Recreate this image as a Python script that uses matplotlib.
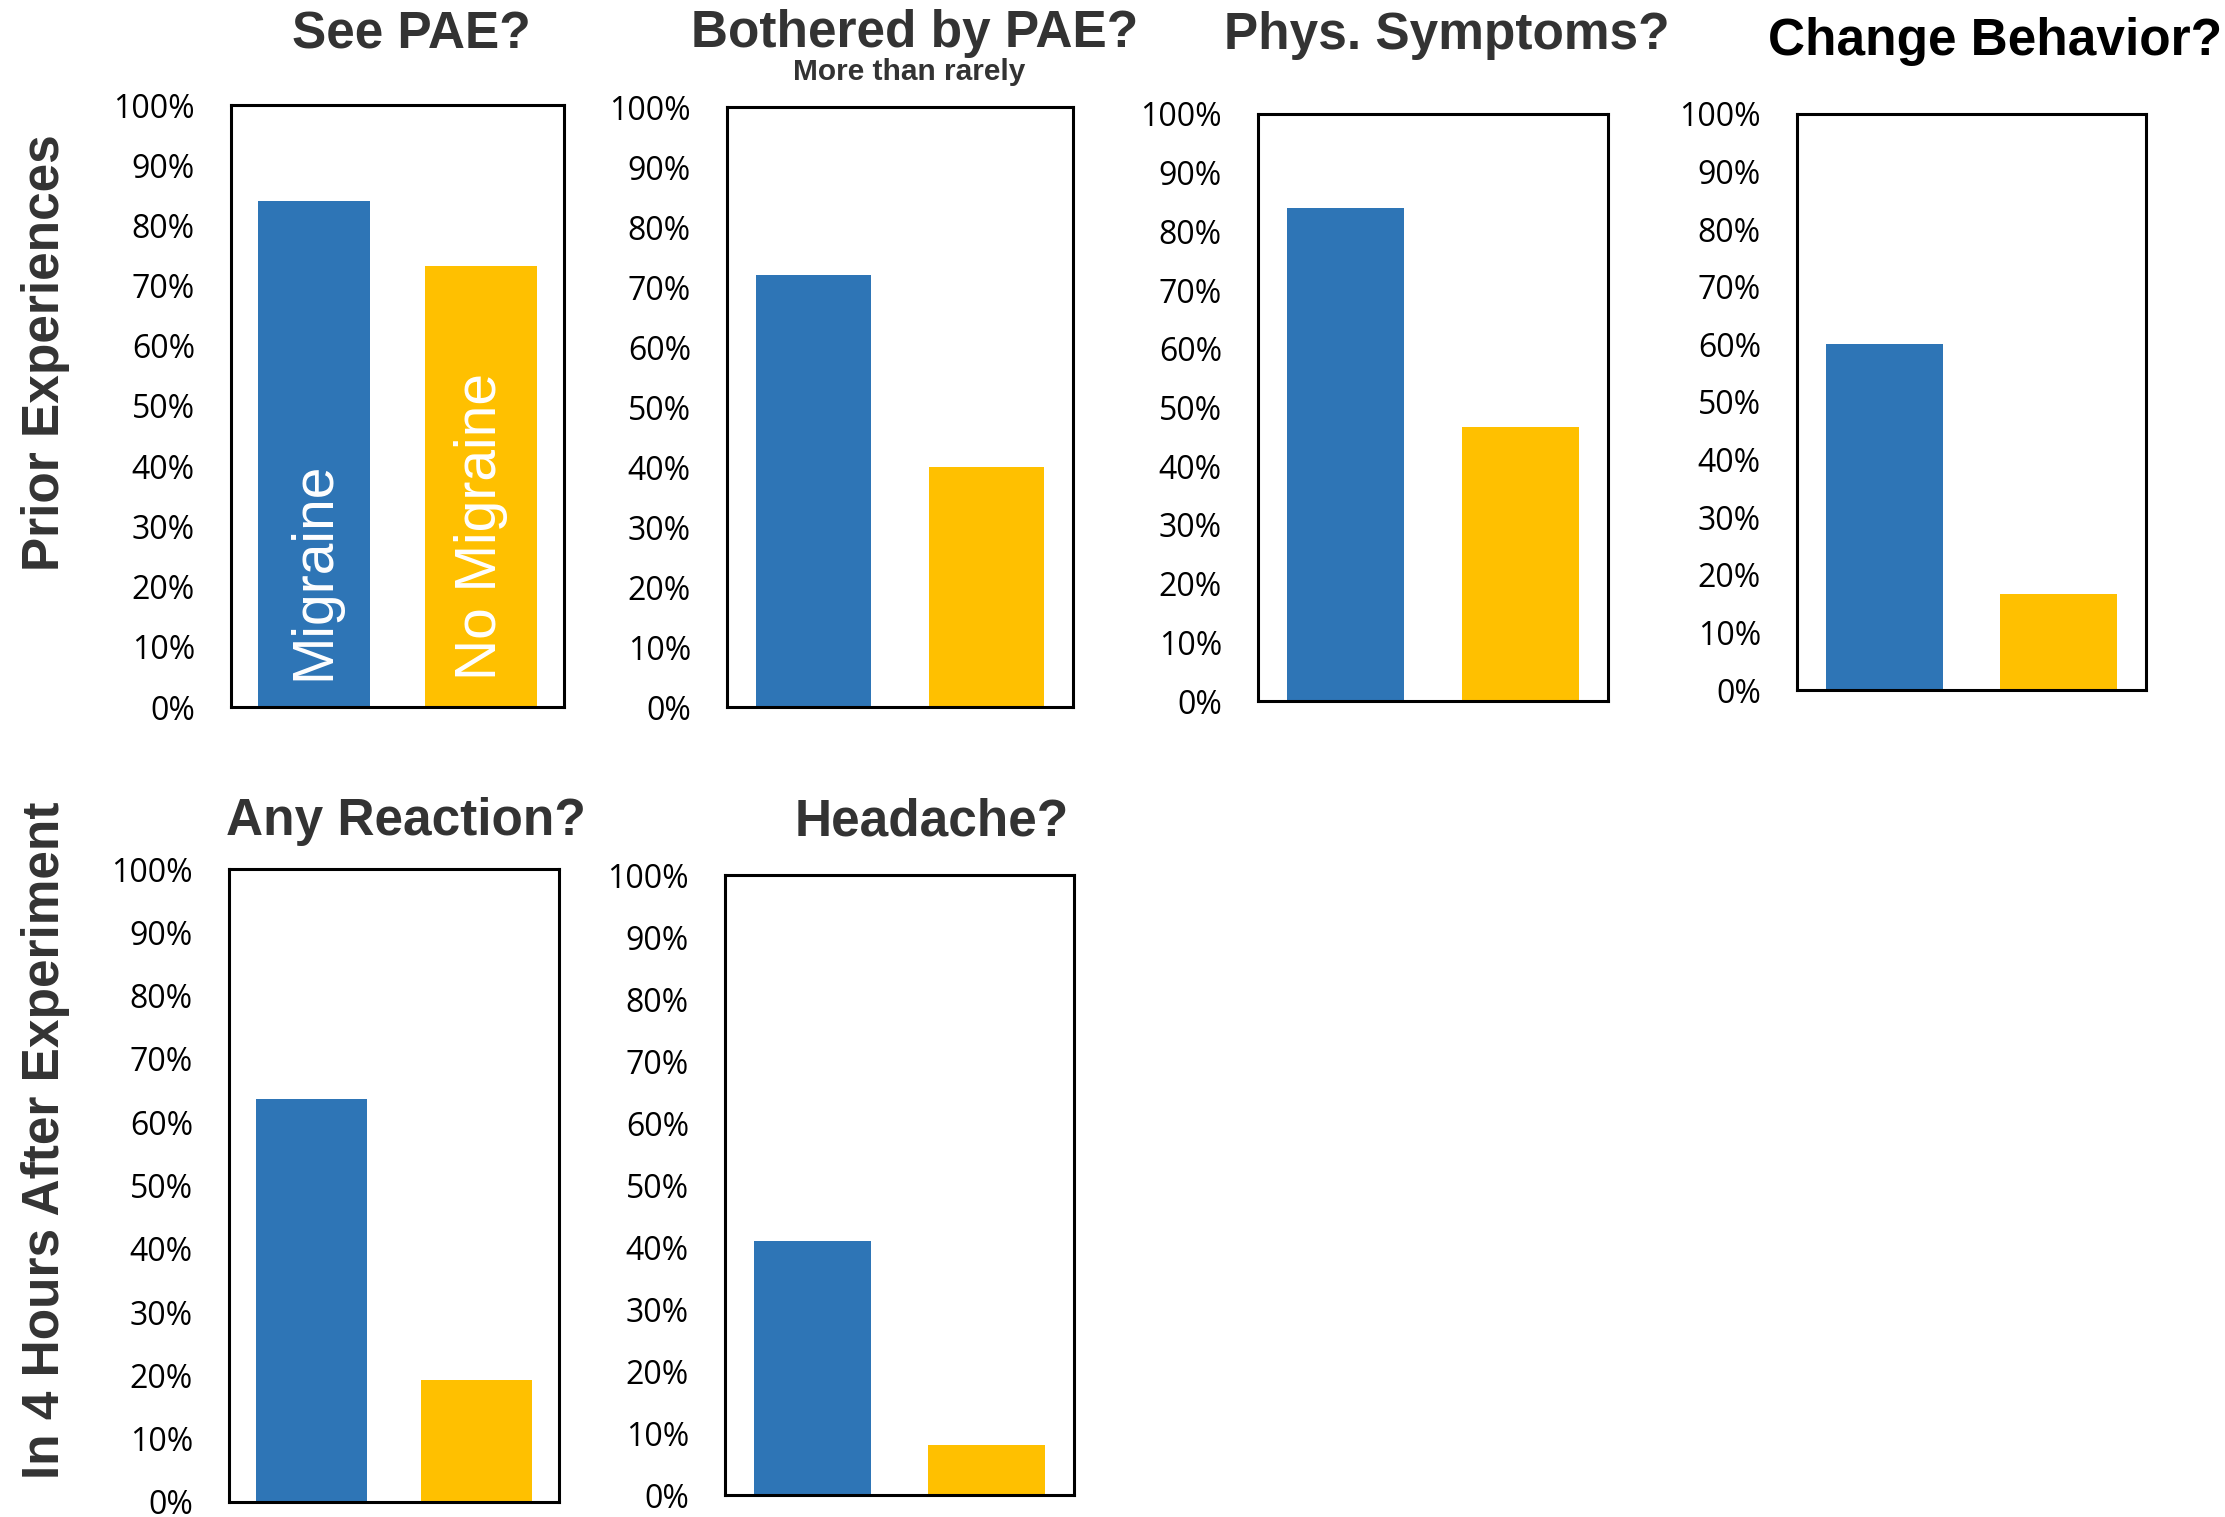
import matplotlib
matplotlib.use("Agg")
import matplotlib.pyplot as plt
from matplotlib.ticker import PercentFormatter

# Share of respondents answering "yes" in each question
groups = ["Migraine", "No Migraine"]
titles = ["See PAE?", "Bothered by PAE?", "Phys. Symptoms?", "Change Behavior?",
          "Any Reaction?", "Headache?"]
migraine = [0.84, 0.72, 0.84, 0.60, 0.637, 0.41]
no_migraine = [0.733, 0.40, 0.467, 0.167, 0.193, 0.081]
row_labels = ["Prior Experiences", "In 4 Hours After Experiment"]
subtitle = "More than rarely"
yticks = [0, 0.1, 0.2, 0.3, 0.4, 0.5, 0.6, 0.7, 0.8, 0.9, 1.0]

BLUE = "#2E75B6"
GOLD = "#FFC000"
DARK = "#333333"

W, H = 2225, 1517
fig = plt.figure(figsize=(W / 100, H / 100), dpi=100)
fig.patch.set_facecolor("white")

# panel boxes in pixels: left, top, right, bottom
boxes = [(231, 105, 564, 707), (727, 107, 1073, 707), (1258, 114, 1608, 701),
         (1797, 114, 2146, 690), (229, 869, 559, 1502), (725, 875, 1074, 1495)]
title_pos = [(411, 35), (915, 33), (1447, 35), (1995, 41), (406, 822), (932, 822)]
title_col = [DARK, DARK, DARK, "black", DARK, DARK]

for i, (l, t, r, b) in enumerate(boxes):
    ax = fig.add_axes([l / W, (H - b) / H, (r - l) / W, (b - t) / H])
    ax.bar([0, 1], [migraine[i], no_migraine[i]], width=0.67,
           color=[BLUE, GOLD], zorder=2)
    ax.set_xlim(-0.5, 1.5)
    ax.set_ylim(0, 1)
    ax.set_xticks([])
    ax.set_yticks(yticks)
    ax.yaxis.set_major_formatter(PercentFormatter(1.0, decimals=0))
    ax.tick_params(axis="y", length=0, pad=26, labelsize=23)
    for lab in ax.get_yticklabels():
        lab.set_fontfamily("Open Sans")
    for sp in ax.spines.values():
        sp.set_linewidth(2.2)
        sp.set_color("black")
    fig.text(title_pos[i][0] / W, 1 - title_pos[i][1] / H, titles[i],
             ha="center", va="center", fontsize=37, fontweight="bold",
             family="Liberation Sans", color=title_col[i])
    if i == 0:
        for x, name in enumerate(groups):
            ax.text(x, 0.045, name, rotation=90, ha="center", va="bottom",
                    color="white", fontsize=41, family="Liberation Sans",
                    zorder=3)

fig.text(909 / W, 1 - 72 / H, subtitle, ha="center", va="center",
         fontsize=21.5, fontweight="bold", family="Liberation Sans", color=DARK)

fig.text(46 / W, 1 - 353 / H, row_labels[0], rotation=90, ha="center",
         va="center", fontsize=37, fontweight="bold", family="Liberation Sans",
         color=DARK)
fig.text(46 / W, 1 - 1140 / H, row_labels[1], rotation=90, ha="center",
         va="center", fontsize=37, fontweight="bold", family="Liberation Sans",
         color=DARK)

fig.savefig("out.png", dpi=100, facecolor="white")
